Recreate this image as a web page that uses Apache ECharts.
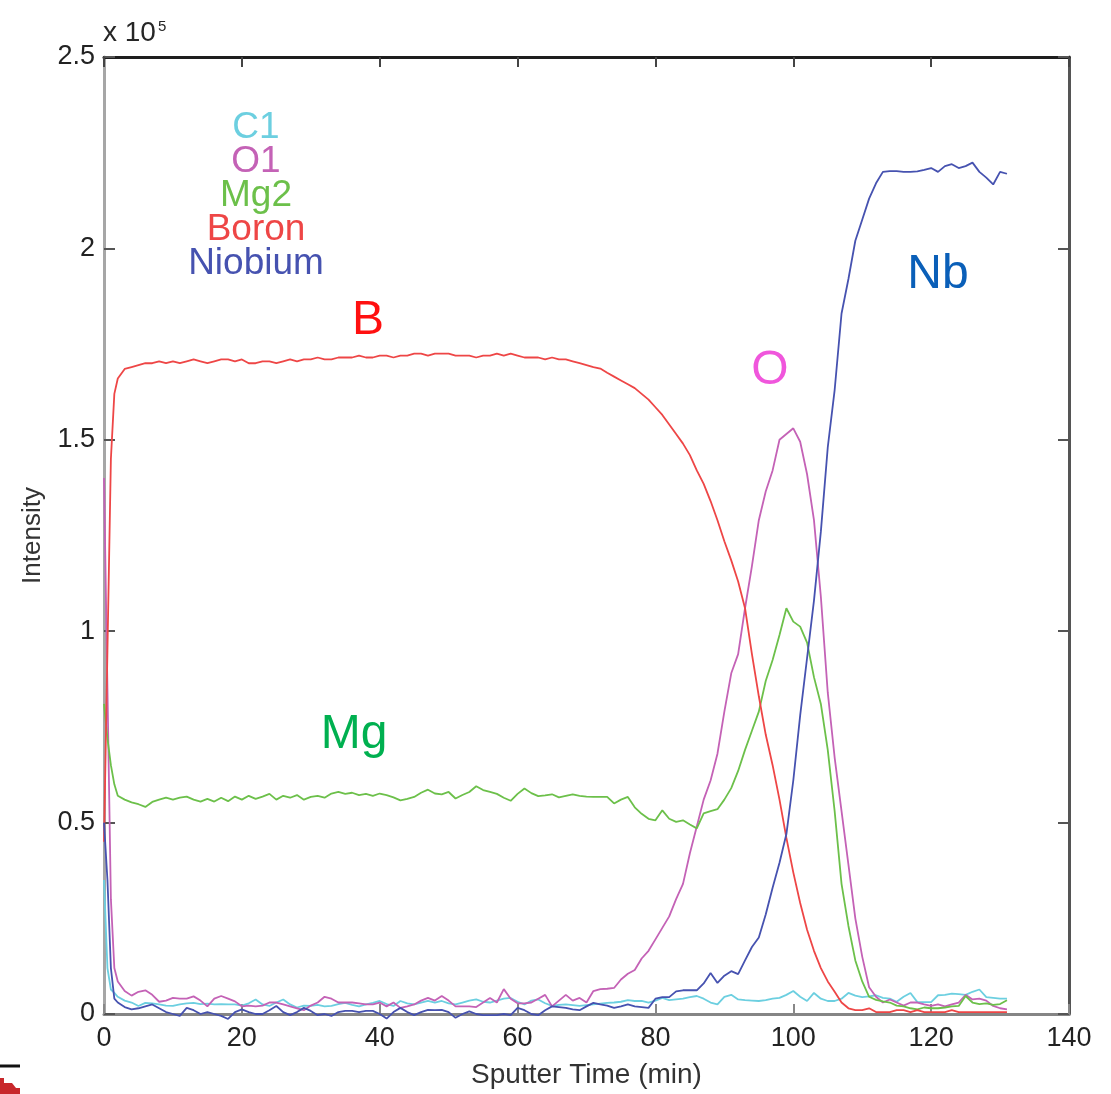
<!DOCTYPE html>
<html>
<head>
<meta charset="utf-8">
<title>Sputter depth profile</title>
<script src="https://cdn.jsdelivr.net/npm/echarts@6/dist/echarts.min.js"></script>
<style>
  html, body { margin: 0; padding: 0; background: #fff; width: 1111px; height: 1094px; overflow: hidden; }
  #chart { display: block; width: 1111px; height: 1094px; }
</style>
</head>
<body>
<div id="chart"></div>
<script>
// Sputter time (min)
const time = [0, 0.5, 1, 1.5, 2, 3, 4, 5, 6, 7, 8, 9, 10, 11, 12, 13, 14, 15, 16, 17, 18, 19, 20,
  21, 22, 23, 24, 25, 26, 27, 28, 29, 30, 31, 32, 33, 34, 35, 36, 37, 38, 39, 40,
  41, 42, 43, 44, 45, 46, 47, 48, 49, 50, 51, 52, 53, 54, 55, 56, 57, 58, 59, 60,
  61, 62, 63, 64, 65, 66, 67, 68, 69, 70, 71, 72, 73, 74, 75, 76, 77, 78, 79, 80,
  81, 82, 83, 84, 85, 86, 87, 88, 89, 90, 91, 92, 93, 94, 95, 96, 97, 98, 99, 100,
  101, 102, 103, 104, 105, 106, 107, 108, 109, 110, 111, 112, 113, 114, 115, 116, 117, 118, 119, 120,
  121, 122, 123, 124, 125, 126, 127, 128, 129, 130, 131];

// Intensities, in units of 1e5 counts
const carbon = [0.35, 0.12, 0.064, 0.055, 0.045, 0.035, 0.03, 0.021, 0.029, 0.028, 0.025, 0.022, 0.021, 0.025, 0.028, 0.029, 0.026, 0.027, 0.025, 0.026, 0.025, 0.025, 0.022,
  0.028, 0.038, 0.025, 0.021, 0.03, 0.038, 0.025, 0.017, 0.022, 0.021, 0.024, 0.02, 0.021, 0.026, 0.029, 0.024, 0.02, 0.025, 0.029, 0.034,
  0.026, 0.021, 0.034, 0.028, 0.025, 0.03, 0.034, 0.03, 0.034, 0.028, 0.025, 0.03, 0.035, 0.038, 0.032, 0.03, 0.035, 0.04, 0.042, 0.032,
  0.025, 0.035, 0.038, 0.028, 0.021, 0.024, 0.025, 0.023, 0.021, 0.023, 0.025, 0.027, 0.029, 0.03, 0.032, 0.036, 0.034, 0.034, 0.03, 0.035,
  0.042, 0.036, 0.038, 0.04, 0.044, 0.047, 0.04, 0.03, 0.025, 0.045, 0.05, 0.038, 0.036, 0.035, 0.034, 0.036, 0.04, 0.042, 0.05, 0.06,
  0.045, 0.034, 0.055, 0.04, 0.034, 0.034, 0.04, 0.055, 0.048, 0.044, 0.046, 0.049, 0.042, 0.04, 0.032, 0.045, 0.055, 0.031, 0.031, 0.031,
  0.049, 0.05, 0.053, 0.052, 0.05, 0.058, 0.064, 0.044, 0.042, 0.04, 0.04];

const oxygen = [1.40, 0.85, 0.30, 0.12, 0.085, 0.06, 0.048, 0.058, 0.062, 0.05, 0.032, 0.035, 0.042, 0.04, 0.04, 0.046, 0.035, 0.02, 0.04, 0.047, 0.04, 0.033, 0.02,
  0.022, 0.02, 0.022, 0.03, 0.03, 0.025, 0.02, 0.015, 0.01, 0.022, 0.03, 0.045, 0.04, 0.03, 0.03, 0.03, 0.028, 0.025, 0.025, 0.03,
  0.02, 0.03, 0.016, 0.02, 0.025, 0.035, 0.042, 0.035, 0.047, 0.035, 0.02, 0.02, 0.02, 0.018, 0.03, 0.042, 0.03, 0.065, 0.04, 0.028,
  0.028, 0.03, 0.04, 0.05, 0.02, 0.035, 0.05, 0.035, 0.042, 0.03, 0.06, 0.065, 0.066, 0.068, 0.09, 0.105, 0.115, 0.145, 0.165, 0.195,
  0.225, 0.255, 0.30, 0.34, 0.42, 0.49, 0.56, 0.61, 0.68, 0.79, 0.89, 0.94, 1.06, 1.17, 1.29, 1.365, 1.42, 1.50, 1.515, 1.53,
  1.495, 1.41, 1.29, 1.09, 0.84, 0.67, 0.53, 0.39, 0.25, 0.15, 0.07, 0.045, 0.03, 0.038, 0.03, 0.022, 0.03, 0.03, 0.025, 0.021,
  0.025, 0.02, 0.025, 0.03, 0.05, 0.038, 0.04, 0.035, 0.021, 0.015, 0.012];

const magnesium = [0.81, 0.72, 0.65, 0.60, 0.57, 0.56, 0.553, 0.548, 0.541, 0.554, 0.56, 0.565, 0.56, 0.565, 0.568, 0.56, 0.555, 0.562, 0.555, 0.565, 0.556, 0.568, 0.56,
  0.57, 0.562, 0.568, 0.575, 0.56, 0.57, 0.565, 0.572, 0.56, 0.567, 0.57, 0.565, 0.576, 0.58, 0.575, 0.578, 0.572, 0.575, 0.57, 0.576,
  0.572, 0.566, 0.558, 0.562, 0.567, 0.578, 0.586, 0.576, 0.574, 0.58, 0.563, 0.572, 0.58, 0.595, 0.585, 0.58, 0.575, 0.565, 0.557, 0.575,
  0.589, 0.577, 0.569, 0.571, 0.574, 0.566, 0.57, 0.574, 0.57, 0.568, 0.567, 0.567, 0.567, 0.55, 0.56, 0.567, 0.54, 0.523, 0.51, 0.506,
  0.532, 0.51, 0.502, 0.506, 0.495, 0.485, 0.524, 0.53, 0.535, 0.56, 0.59, 0.635, 0.69, 0.74, 0.79, 0.87, 0.925, 0.99, 1.06, 1.025,
  1.012, 0.97, 0.88, 0.81, 0.69, 0.53, 0.34, 0.23, 0.14, 0.085, 0.045, 0.037, 0.033, 0.03, 0.022, 0.02, 0.015, 0.012, 0.017, 0.015,
  0.015, 0.017, 0.02, 0.021, 0.047, 0.03, 0.026, 0.028, 0.024, 0.026, 0.036];

const boron = [0.45, 0.95, 1.45, 1.62, 1.66, 1.685, 1.69, 1.695, 1.70, 1.70, 1.705, 1.70, 1.705, 1.70, 1.705, 1.71, 1.705, 1.70, 1.705, 1.71, 1.71, 1.705, 1.71,
  1.70, 1.70, 1.705, 1.705, 1.70, 1.705, 1.71, 1.705, 1.71, 1.71, 1.715, 1.71, 1.71, 1.715, 1.715, 1.715, 1.72, 1.715, 1.715, 1.72,
  1.72, 1.715, 1.72, 1.72, 1.725, 1.725, 1.72, 1.725, 1.725, 1.725, 1.72, 1.72, 1.72, 1.715, 1.72, 1.72, 1.725, 1.72, 1.725, 1.72,
  1.715, 1.715, 1.715, 1.71, 1.715, 1.71, 1.71, 1.705, 1.70, 1.695, 1.69, 1.686, 1.675, 1.665, 1.655, 1.645, 1.635, 1.62, 1.605, 1.585,
  1.565, 1.54, 1.515, 1.49, 1.46, 1.42, 1.385, 1.34, 1.29, 1.235, 1.185, 1.13, 1.06, 0.94, 0.83, 0.73, 0.65, 0.56, 0.46, 0.37,
  0.29, 0.22, 0.165, 0.12, 0.085, 0.058, 0.03, 0.015, 0.01, 0.01, 0.015, 0.005, 0.005, 0.005, 0.01, 0.01, 0.005, 0.01, 0.005, 0.005,
  0.005, 0.005, 0.01, 0.005, 0.005, 0.005, 0.005, 0.005, 0.005, 0.005, 0.005];

const niobium = [0.50, 0.35, 0.12, 0.04, 0.03, 0.018, 0.012, 0.015, 0.02, 0.025, 0.015, 0.005, 0.0, -0.005, 0.016, 0.01, 0.0, 0.005, 0.0, -0.005, -0.013, 0.005, 0.012,
  0.005, 0.0, 0.0, 0.01, 0.021, 0.005, -0.003, 0.005, 0.016, 0.008, -0.003, 0.0, -0.005, 0.005, 0.008, 0.008, 0.005, 0.008, 0.008, 0.0,
  -0.012, 0.005, 0.016, 0.005, -0.003, 0.005, 0.011, 0.01, 0.011, 0.005, -0.01, 0.0, 0.007, 0.0, -0.003, -0.003, -0.003, 0.0, -0.003, 0.016,
  0.01, 0.0, -0.003, 0.01, 0.02, 0.018, 0.016, 0.012, 0.01, 0.02, 0.029, 0.025, 0.022, 0.016, 0.02, 0.025, 0.02, 0.018, 0.016, 0.04,
  0.044, 0.044, 0.059, 0.062, 0.062, 0.062, 0.08, 0.107, 0.081, 0.1, 0.112, 0.104, 0.14, 0.175, 0.20, 0.26, 0.33, 0.395, 0.47, 0.61,
  0.78, 0.93, 1.08, 1.26, 1.48, 1.63, 1.83, 1.92, 2.02, 2.075, 2.13, 2.17, 2.20, 2.202, 2.202, 2.20, 2.20, 2.201, 2.205, 2.21,
  2.20, 2.215, 2.22, 2.21, 2.215, 2.224, 2.20, 2.185, 2.167, 2.20, 2.195];

const seriesNames = ['C1', 'O1', 'Mg2', 'Boron', 'Niobium'];
const seriesValues = [carbon, oxygen, magnesium, boron, niobium];
const seriesColors = ['#6ccfe0', '#c462b6', '#6cc04a', '#ee4646', '#4652b0'];

// Element labels placed next to their profiles: [text, time, intensity, colour]
const elementLabels = [
  ['B', 38.3, 1.81, '#ff1010'],
  ['O', 96.6, 1.68, '#f056dc'],
  ['Mg', 36.3, 0.73, '#00b050'],
  ['Nb', 121.0, 1.93, '#0a5fb8']
];

const yTicks = { min: 0, max: 2.5, interval: 0.5 };
const xTicks = { min: 0, max: 140, interval: 20 };

const FONT = '"Liberation Sans", Arial, Helvetica, sans-serif';

const chart = echarts.init(document.getElementById('chart'), null, { renderer: 'canvas', width: 1111, height: 1094 });

const series = seriesNames.map((name, i) => ({
  name: name,
  type: 'line',
  xAxisIndex: 0,
  yAxisIndex: 0,
  data: time.map((t, k) => [t, seriesValues[i][k]]),
  showSymbol: false,
  symbol: 'none',
  clip: false,
  animation: false,
  lineStyle: { color: seriesColors[i], width: 1.8 },
  itemStyle: { color: seriesColors[i] },
  z: 3
}));

const grid = { left: 104, right: 42, top: 57, bottom: 76 };

const option = {
  animation: false,
  backgroundColor: '#ffffff',
  grid: grid,
  xAxis: [
    {
      type: 'value', position: 'bottom',
      min: xTicks.min, max: xTicks.max, interval: xTicks.interval,
      name: 'Sputter Time (min)', nameLocation: 'middle', nameGap: 47,
      nameTextStyle: { fontFamily: FONT, fontSize: 28, color: '#333' },
      axisLine: { show: true, lineStyle: { color: '#858585', width: 3 } },
      axisTick: { show: true, inside: true, length: 10, lineStyle: { color: '#888', width: 2 } },
      axisLabel: { fontFamily: FONT, fontSize: 27, color: '#222', margin: 11 },
      splitLine: { show: false }
    },
    {
      type: 'value', position: 'top',
      min: xTicks.min, max: xTicks.max, interval: xTicks.interval,
      axisLine: { show: true, onZero: false, lineStyle: { color: '#1e1e1e', width: 3 } },
      axisTick: { show: true, inside: true, length: 10, lineStyle: { color: '#444', width: 2 } },
      axisLabel: { show: false },
      splitLine: { show: false }
    }
  ],
  yAxis: [
    {
      type: 'value', position: 'left',
      min: yTicks.min, max: yTicks.max, interval: yTicks.interval,
      name: 'Intensity', nameLocation: 'middle', nameGap: 58, nameRotate: 90,
      nameTextStyle: { fontFamily: FONT, fontSize: 26, color: '#333' },
      axisLine: { show: true, onZero: false, lineStyle: { color: '#a6a6a6', width: 3 } },
      axisTick: { show: true, inside: true, length: 11, lineStyle: { color: '#555', width: 2 } },
      axisLabel: { fontFamily: FONT, fontSize: 27, color: '#222', margin: 9 },
      splitLine: { show: false }
    },
    {
      type: 'value', position: 'right',
      min: yTicks.min, max: yTicks.max, interval: yTicks.interval,
      axisLine: { show: true, onZero: false, lineStyle: { color: '#555', width: 3 } },
      axisTick: { show: true, inside: true, length: 11, lineStyle: { color: '#555', width: 2 } },
      axisLabel: { show: false },
      splitLine: { show: false }
    }
  ],
  series: series
};

chart.setOption(option);

// Colour-coded series key, element labels, axis multiplier and the corner fragment
function drawOverlay() {
  const keyCenterX = 256;
  const keyTop = 109;
  const keyStep = 34;
  const keyTexts = seriesNames.map((name, i) => ({
    type: 'text',
    x: keyCenterX, y: keyTop + i * keyStep,
    style: {
      text: name, fill: seriesColors[i],
      font: '37px ' + FONT, textAlign: 'center', textVerticalAlign: 'top'
    },
    silent: true, z: 10
  }));

  const labelTexts = elementLabels.map(([txt, t, v, col]) => {
    const p = chart.convertToPixel({ xAxisIndex: 0, yAxisIndex: 0 }, [t, v]);
    return {
      type: 'text', x: p[0], y: p[1],
      style: { text: txt, fill: col, font: '48px ' + FONT, textAlign: 'center', textVerticalAlign: 'middle' },
      silent: true, z: 10
    };
  });

  const multiplier = {
    type: 'text', x: 103, y: 19,
    style: {
      rich: {
        base: { font: '28px ' + FONT, fill: '#262626' },
        sup: { font: '15px ' + FONT, fill: '#262626', verticalAlign: 'top', padding: [0, 0, 14, 2] }
      },
      text: '{base|x 10}{sup|5}'
    },
    silent: true, z: 10
  };

  const corner = [
    { type: 'line', shape: { x1: 0, y1: 1066, x2: 20, y2: 1066 }, style: { stroke: '#111', lineWidth: 3 }, silent: true },
    { type: 'polygon', shape: { points: [[0, 1078], [4, 1078], [4, 1083], [12, 1083], [16, 1088], [20, 1088], [20, 1094], [0, 1094]] },
      style: { fill: '#c8282c' }, silent: true }
  ];

  chart.setOption({ graphic: [...keyTexts, ...labelTexts, multiplier, ...corner] });
}
drawOverlay();
</script>
</body>
</html>
